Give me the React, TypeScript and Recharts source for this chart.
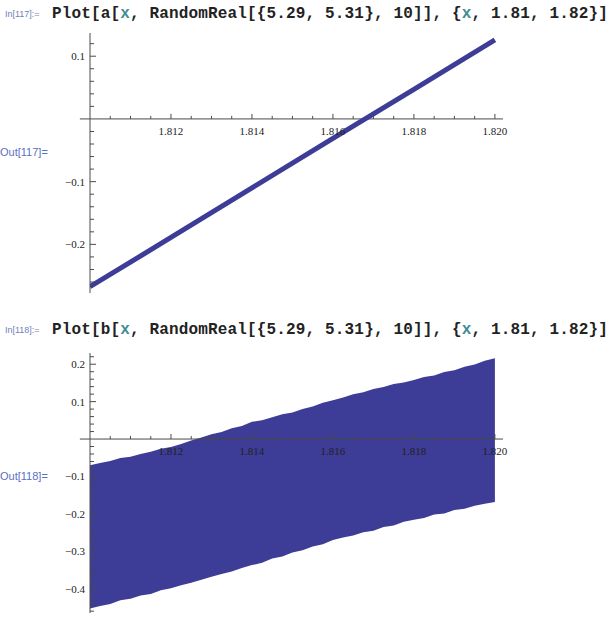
import React from "react";
import {
  ComposedChart,
  Line,
  Area,
  XAxis,
  YAxis,
  ReferenceLine,
  ReferenceDot,
} from "recharts";

// plot a: straight line
const lineX = [1.81, 1.812, 1.814, 1.816, 1.818, 1.82];
const lineY = [-0.2675, -0.189, -0.11, -0.031, 0.047, 0.126];

// plot b: oscillating band, read as upper / lower edge
const bandX = [
  1.81, 1.81025, 1.8105, 1.81075, 1.811, 1.81125, 1.8115, 1.81175, 1.812, 1.81225,
  1.8125, 1.81275, 1.813, 1.81325, 1.8135, 1.81375, 1.814, 1.81425, 1.8145, 1.81475,
  1.815, 1.81525, 1.8155, 1.81575, 1.816, 1.81625, 1.8165, 1.81675, 1.817, 1.81725,
  1.8175, 1.81775, 1.818, 1.81825, 1.8185, 1.81875, 1.819, 1.81925, 1.8195, 1.81975,
  1.82,
];
const bandHigh = [
  -0.07, -0.064, -0.059, -0.051, -0.047, -0.04, -0.034, -0.026, -0.021, -0.013,
  -0.004, 0.004, 0.013, 0.019, 0.029, 0.035, 0.046, 0.05, 0.058, 0.066,
  0.071, 0.08, 0.087, 0.097, 0.104, 0.111, 0.12, 0.125, 0.134, 0.139,
  0.147, 0.151, 0.158, 0.166, 0.17, 0.179, 0.184, 0.193, 0.199, 0.209,
  0.216,
];
const bandLow = [
  -0.453, -0.446, -0.441, -0.431, -0.427, -0.418, -0.414, -0.404, -0.399, -0.391,
  -0.384, -0.376, -0.368, -0.361, -0.354, -0.345, -0.337, -0.331, -0.319, -0.314,
  -0.303, -0.297, -0.287, -0.281, -0.27, -0.263, -0.258, -0.249, -0.245, -0.235,
  -0.231, -0.221, -0.216, -0.211, -0.202, -0.199, -0.19, -0.186, -0.178, -0.173,
  -0.168,
];

// ticks
const xMinorTicks = [
  1.8105, 1.811, 1.8115, 1.812, 1.8125, 1.813, 1.8135, 1.814, 1.8145, 1.815,
  1.8155, 1.816, 1.8165, 1.817, 1.8175, 1.818, 1.8185, 1.819, 1.8195, 1.82,
];
const xMajorTicks = [1.812, 1.814, 1.816, 1.818, 1.82];
const xMajorLabels = ["1.812", "1.814", "1.816", "1.818", "1.820"];

const yTicksA = [
  -0.26, -0.24, -0.22, -0.2, -0.18, -0.16, -0.14, -0.12, -0.1, -0.08, -0.06, -0.04,
  -0.02, 0.02, 0.04, 0.06, 0.08, 0.1, 0.12,
];
const yMajorA = [-0.2, -0.1, 0.1];
const yLabelsA = ["\u22120.2", "\u22120.1", "0.1"];

const yTicksB = [
  -0.46, -0.44, -0.42, -0.4, -0.38, -0.36, -0.34, -0.32, -0.3, -0.28, -0.26, -0.24,
  -0.22, -0.2, -0.18, -0.16, -0.14, -0.12, -0.1, -0.08, -0.06, -0.04, -0.02, 0.02,
  0.04, 0.06, 0.08, 0.1, 0.12, 0.14, 0.16, 0.18, 0.2, 0.22,
];
const yMajorB = [-0.4, -0.3, -0.2, -0.1, 0.1, 0.2];
const yLabelsB = ["\u22120.4", "\u22120.3", "\u22120.2", "\u22120.1", "0.1", "0.2"];

const PLOT_BLUE = "#3d3c96";
const AXIS = "#4a4a4a";
const SERIF = "'Liberation Serif', 'Times New Roman', serif";

const lineData = lineX.map((x, i) => ({ x, y: lineY[i] }));
const bandData = bandX.map((x, i) => ({ x, band: [bandLow[i], bandHigh[i]] }));

const near = (a: number, b: number) => Math.abs(a - b) < 1e-9;

function makeYTick(majors: number[], labels: string[]) {
  return (props: any) => {
    const { x, y, payload } = props;
    const idx = majors.findIndex((m) => near(m, payload.value));
    const major = idx >= 0;
    return (
      <g>
        <line x1={x} y1={y} x2={x + (major ? 6 : 4)} y2={y} stroke={AXIS} strokeWidth={1} />
        {major && (
          <text
            x={x - 5}
            y={y + 4}
            textAnchor="end"
            fontFamily={SERIF}
            fontSize={11}
            fill="#222"
          >
            {labels[idx]}
          </text>
        )}
      </g>
    );
  };
}

function xTickShape(label?: string) {
  return (props: any) => {
    const { cx, cy } = props;
    return (
      <g>
        <line x1={cx} y1={cy} x2={cx} y2={cy - (label ? 5 : 3)} stroke={AXIS} strokeWidth={1} />
        {label && (
          <text x={cx} y={cy + 16} textAnchor="middle" fontFamily={SERIF} fontSize={11} fill="#222">
            {label}
          </text>
        )}
      </g>
    );
  };
}

function xAxisMarks() {
  return [
    <ReferenceLine
      key="xaxis"
      segment={[
        { x: 1.80975, y: 0 },
        { x: 1.8202, y: 0 },
      ]}
      stroke={AXIS}
      strokeWidth={1}
      ifOverflow="visible"
    />,
    ...xMinorTicks.map((t) => {
      const k = xMajorTicks.findIndex((m) => near(m, t));
      return (
        <ReferenceDot
          key={"xt" + t}
          x={t}
          y={0}
          r={0}
          ifOverflow="visible"
          shape={xTickShape(k >= 0 ? xMajorLabels[k] : undefined)}
        />
      );
    }),
  ];
}

const inStyle: React.CSSProperties = {
  position: "absolute",
  fontFamily: "Arial, 'Liberation Sans', sans-serif",
  fontSize: 9,
  color: "#7181b4",
  whiteSpace: "nowrap",
};
const codeStyle: React.CSSProperties = {
  position: "absolute",
  fontFamily: "'Liberation Mono', 'Courier New', monospace",
  fontWeight: "bold",
  fontSize: 16,
  letterSpacing: 0.15,
  color: "#222",
  whiteSpace: "nowrap",
};
const outStyle: React.CSSProperties = {
  position: "absolute",
  fontFamily: "Arial, 'Liberation Sans', sans-serif",
  fontSize: 11,
  color: "#5b70c0",
  whiteSpace: "nowrap",
};
const teal = { color: "#3f8d92" };

function Code({ fn }: { fn: string }) {
  return (
    <>
      Plot[{fn}[<span style={teal}>x</span>, RandomReal[{"{"}5.29, 5.31{"}"}, 10]], {"{"}
      <span style={teal}>x</span>, 1.81, 1.82{"}"}]
    </>
  );
}

export default function App() {
  return (
    <div
      style={{
        position: "absolute",
        left: 0,
        top: 0,
        width: 612,
        height: 622,
        background: "#fff",
        overflow: "hidden",
      }}
    >
      <div style={{ ...inStyle, left: 5, top: 9 }}>In[117]:=</div>
      <div style={{ ...codeStyle, left: 52, top: 5 }}>
        <Code fn="a" />
      </div>
      <div style={{ ...outStyle, left: 0, top: 146 }}>Out[117]=</div>

      <div style={{ position: "absolute", left: 0, top: 0 }}>
        <ComposedChart
          width={612}
          height={310}
          data={lineData}
          margin={{ top: 33, right: 109, bottom: 17, left: 50 }}
        >
          <XAxis type="number" dataKey="x" domain={[1.81, 1.8202]} allowDataOverflow hide />
          <YAxis
            type="number"
            width={40}
            domain={[-0.2775, 0.137]}
            allowDataOverflow
            ticks={yTicksA}
            interval={0}
            axisLine={{ stroke: AXIS, strokeWidth: 1 }}
            tickLine={false}
            tickSize={0}
            tickMargin={0}
            tick={makeYTick(yMajorA, yLabelsA)}
          />
          {xAxisMarks()}
          <Line
            type="linear"
            dataKey="y"
            stroke={PLOT_BLUE}
            strokeWidth={5}
            dot={false}
            activeDot={false}
            isAnimationActive={false}
          />
        </ComposedChart>
      </div>

      <div style={{ ...inStyle, left: 5, top: 325 }}>In[118]:=</div>
      <div style={{ ...codeStyle, left: 52, top: 321 }}>
        <Code fn="b" />
      </div>
      <div style={{ ...outStyle, left: 0, top: 470 }}>Out[118]=</div>

      <div style={{ position: "absolute", left: 0, top: 310 }}>
        <ComposedChart
          width={612}
          height={312}
          data={bandData}
          margin={{ top: 43, right: 109, bottom: 9, left: 50 }}
        >
          <XAxis type="number" dataKey="x" domain={[1.81, 1.8202]} allowDataOverflow hide />
          <YAxis
            type="number"
            width={40}
            domain={[-0.465, 0.23]}
            allowDataOverflow
            ticks={yTicksB}
            interval={0}
            axisLine={{ stroke: AXIS, strokeWidth: 1 }}
            tickLine={false}
            tickSize={0}
            tickMargin={0}
            tick={makeYTick(yMajorB, yLabelsB)}
          />
          <Area
            type="linear"
            dataKey="band"
            stroke="none"
            fill={PLOT_BLUE}
            fillOpacity={1}
            dot={false}
            activeDot={false}
            isAnimationActive={false}
          />
          {xAxisMarks()}
        </ComposedChart>
      </div>
    </div>
  );
}
